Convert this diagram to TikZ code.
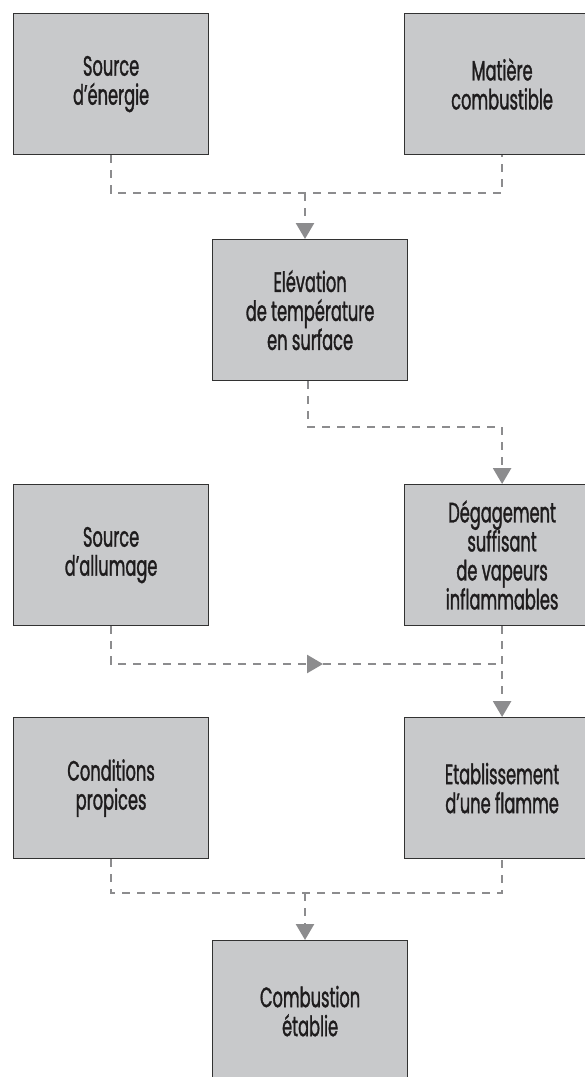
\documentclass[tikz,border=0pt]{standalone}
\usepackage{fontspec}
\setmainfont{Poppins}[FakeStretch=0.58,FakeBold=1.2]
\usetikzlibrary{arrows.meta}
\definecolor{boxfill}{RGB}{200,201,203}
\definecolor{boxline}{RGB}{50,50,50}
\definecolor{connc}{RGB}{140,140,142}
\definecolor{txt}{RGB}{30,28,29}
\begin{document}
\begin{tikzpicture}[x=1pt,y=-1pt,
  stepbox/.style={draw=boxline, line width=1.2pt, fill=boxfill, minimum width=195pt, minimum height=141pt, inner sep=0pt, align=center, text=txt, font=\fontsize{28}{29}\selectfont, anchor=north west},
  conn/.style={draw=connc, line width=2.6pt, dash pattern=on 8pt off 7pt},
  arr/.style={-{Triangle[length=16pt,width=18pt]}}
]
\useasboundingbox (0,0) rectangle (585,1077);
\node[stepbox] (b1) at (13,13) {Source\\d’énergie};
\node[stepbox] (b2) at (404,13) {Matière\\combustible};
\node[stepbox] (b3) at (212,239) {Elévation\\de température\\en surface};
\node[stepbox] (b4) at (13,484) {Source\\d’allumage};
\node[stepbox] (b5) at (404,484) {Dégagement\\suffisant\\de vapeurs\\inflammables};
\node[stepbox] (b6) at (13,717) {Conditions\\propices};
\node[stepbox] (b7) at (404,717) {Etablissement\\d’une flamme};
\node[stepbox] (b8) at (212,940) {Combustion\\établie};
% connectors
\coordinate (j1) at (305,193);
\draw[conn] (b1.south) |- (j1) -| (b2.south);
\draw[conn,arr] (j1) -- (j1 |- b3.north);
\coordinate (j2) at (308,427);
\draw[conn,arr] (b3.south -| j2) |- (j2 -| b5.north) -- (b5.north);
\coordinate (m) at (323,664);
\draw[conn,arr] (b4.south) |- (m);
\draw[conn] (m) -- (m -| b5.south);
\draw[conn,arr] (b5.south) -- (b7.north);
\coordinate (j3) at (305,893);
\draw[conn] (b6.south) |- (j3) -| (b7.south);
\draw[conn,arr] (j3) -- (j3 |- b8.north);
\end{tikzpicture}
\end{document}
